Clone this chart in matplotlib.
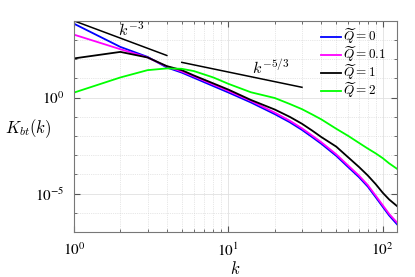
import numpy as np
import matplotlib
matplotlib.use("Agg")
import matplotlib.pyplot as plt
from matplotlib.ticker import FixedLocator, NullFormatter, FuncFormatter

plt.rcParams["font.family"] = ["Liberation Serif", "DejaVu Serif"]
plt.rcParams["mathtext.fontset"] = "stix"

# wavenumbers and log10 of spectra
k = [1, 2, 3, 4, 5, 6, 8, 10, 14, 20, 25, 30, 35, 40, 50, 60, 70, 80, 90, 100, 110, 124]
q0_log = [3.85, 2.64, 2.12, 1.57, 1.30, 1.03, 0.60, 0.27, -0.25, -0.86, -1.28, -1.68,
          -2.06, -2.40, -3.03, -3.63, -4.13, -4.63, -5.18, -5.68, -6.13, -6.60]
q01_log = [3.28, 2.52, 2.09, 1.62, 1.36, 1.10, 0.68, 0.35, -0.17, -0.78, -1.20, -1.60,
           -1.98, -2.32, -2.95, -3.55, -4.05, -4.55, -5.10, -5.60, -6.05, -6.51]
q1_log = [2.04, 2.38, 2.09, 1.64, 1.43, 1.15, 0.74, 0.42, -0.12, -0.62, -1.00, -1.36,
          -1.72, -2.05, -2.55, -3.12, -3.60, -4.05, -4.50, -4.95, -5.30, -5.65]
q2_log = [0.26, 1.05, 1.43, 1.52, 1.50, 1.38, 1.05, 0.72, 0.28, -0.02, -0.33, -0.60,
          -0.88, -1.13, -1.62, -2.00, -2.35, -2.65, -2.90, -3.15, -3.42, -3.71]

labels = [r"$\widetilde{Q}=0$", r"$\widetilde{Q}=0.1$", r"$\widetilde{Q}=1$", r"$\widetilde{Q}=2$"]
colors = ["#0000ff", "#ff00ff", "#000000", "#00ff00"]

# reference slopes
k3_range = [1, 4]
k53_range = [5, 30]

fig = plt.figure(figsize=(4.15, 2.77), dpi=100)
ax = fig.add_axes([0.178, 0.162, 0.779, 0.763])

k = np.array(k, dtype=float)
for ys, c, lab in zip([q0_log, q01_log, q1_log, q2_log], colors, labels):
    ax.plot(k, 10 ** np.array(ys), color=c, lw=1.3, label=lab)

kk = np.array(k3_range, dtype=float)
ax.plot(kk, 1e4 * kk ** -3.0, color="k", lw=1.1)
kk = np.array(k53_range, dtype=float)
ax.plot(kk, 1e3 * kk ** (-5 / 3), color="k", lw=1.1)

ax.text(2.35, 10 ** 3.5, r"$k^{-3}$", fontsize=11.5, ha="center", va="center", math_fontfamily="cm")
ax.text(18.7, 10 ** 1.52, r"$k^{-5/3}$", fontsize=11.5, ha="center", va="center", math_fontfamily="cm")

ax.set_xscale("log")
ax.set_yscale("log")
ax.set_xlim(1, 124)
ax.set_ylim(1e-7, 1e4)

ax.yaxis.set_major_locator(FixedLocator([1e-5, 1e0]))
ax.yaxis.set_minor_locator(FixedLocator([10.0 ** e for e in range(-7, 5)]))
ax.yaxis.set_minor_formatter(NullFormatter())

def pow_fmt(v, pos):
    return r"$10^{%d}$" % int(round(np.log10(v)))

ax.xaxis.set_major_formatter(FuncFormatter(pow_fmt))
ax.yaxis.set_major_formatter(FuncFormatter(pow_fmt))

ax.tick_params(which="both", direction="in", top=True, right=True, labelsize=11,
               color="#555555")
ax.tick_params(which="major", length=4, pad=7)
ax.tick_params(which="minor", length=2)
for s in ax.spines.values():
    s.set_color("#777777")
    s.set_linewidth(0.8)

ax.grid(which="major", color="#e0e0e0", lw=0.6, ls="-")
ax.grid(which="minor", color="#d0d0d0", lw=0.5, ls=":")
ax.set_axisbelow(True)

ax.set_xlabel(r"$k$", fontsize=12, math_fontfamily="cm", labelpad=1)
ax.set_ylabel(r"$K_{bt}(k)$", fontsize=12, math_fontfamily="cm", rotation=0,
              ha="center", va="center")
ax.yaxis.set_label_coords(-0.142, 0.49)

leg = ax.legend(loc="upper right", bbox_to_anchor=(0.99, 1.01), frameon=False, fontsize=9.5,
                handlelength=1.5, handletextpad=0.15, labelspacing=-0.12, borderaxespad=0.2)
for t in leg.get_texts():
    t.set_math_fontfamily("cm")

fig.savefig("out.png", dpi=100)
